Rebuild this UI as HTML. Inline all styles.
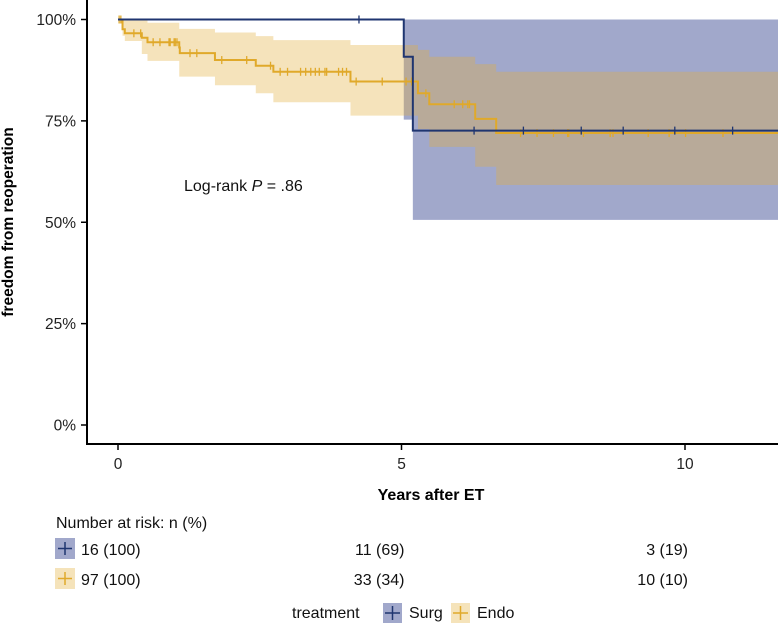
<!DOCTYPE html>
<html><head><meta charset="utf-8"><style>
body{margin:0;background:#fff}
svg{display:block;font-family:"Liberation Sans",Arial,sans-serif}
</style></head><body>
<svg id="chart" width="778" height="624" viewBox="0 0 778 624">
<g id="bands"></g><g id="lines"></g>
<g id="axes"></g>
</svg>
<script>
// Surg series
const surgT=[0,5.04,5.20];
const surgS=[1.0,0.908,0.726];
const surgUp=[1.0,1.0,1.0];
const surgLo=[1.0,0.753,0.506];
const surgCens=[4.25,6.28,7.15,8.17,8.91,9.82,10.84];
// Endo series
const endoT=[0,0.08,0.12,0.42,0.52,1.08,1.09,1.71,2.43,2.74,4.10,5.29,5.49,6.30,6.67];
const endoS=[1.0,0.976,0.966,0.955,0.944,0.931,0.917,0.900,0.886,0.871,0.847,0.818,0.791,0.755,0.720];
const endoUp=[1.0,1.0,1.0,1.0,0.992,0.977,0.977,0.968,0.959,0.949,0.937,0.925,0.908,0.890,0.871];
const endoLo=[1.0,0.96,0.947,0.915,0.898,0.859,0.859,0.838,0.818,0.796,0.763,0.73,0.686,0.637,0.592];
const endoCens=[0.02,0.05,0.28,0.4,0.62,0.74,0.9,0.92,0.99,1.01,1.04,1.27,1.39,1.83,2.27,2.69,2.86,2.99,3.22,3.31,3.4,3.48,3.55,3.65,3.68,3.89,3.96,4.03,4.2,4.66,5.08,5.18,5.43,5.93,6.08,6.17,6.2,7.1,7.39,7.68,7.93,7.95,8.21,8.68,8.73,9.35,9.72,10.01,10.67];
const xTicks=[0,5,10];
const yTicks=[0,0.25,0.5,0.75,1.0];
const yTickLabels=["0%","25%","50%","75%","100%"];
const riskTimes=[0,5,10];
const surgRisk=["16 (100)","11 (69)","3 (19)"];
const endoRisk=["97 (100)","33 (34)","10 (10)"];
const tMax=11.65;

const NS="http://www.w3.org/2000/svg";
const X=t=>118+t*56.7;
const Y=s=>425-s*405.5;
const svg=document.getElementById('chart');
function mk(tag,attrs,parent){const e=document.createElementNS(NS,tag);for(const k in attrs)e.setAttribute(k,attrs[k]);(parent||svg).appendChild(e);return e;}
function stepPath(T,S){let d=`M${X(T[0])},${Y(S[0])}`;for(let i=1;i<T.length;i++){d+=`H${X(T[i])}V${Y(S[i])}`;}d+=`H${X(tMax)}`;return d;}
function bandPath(T,U,L){let up=`M${X(T[0])},${Y(U[0])}`;for(let i=1;i<T.length;i++)up+=`H${X(T[i])}V${Y(U[i])}`;up+=`H${X(tMax)}V${Y(L[L.length-1])}`;for(let i=T.length-1;i>=1;i--)up+=`H${X(T[i])}V${Y(L[i-1])}`;up+=`H${X(T[0])}Z`;return up;}
function stepAt(T,S,t){let v=S[0];for(let i=0;i<T.length;i++)if(T[i]<=t)v=S[i];return v;}
const bands=document.getElementById('bands'),lines=document.getElementById('lines');
let b=mk('path',{d:bandPath(surgT,surgUp,surgLo),fill:'#a1a8cb'},bands);


b=mk('path',{d:bandPath(endoT,endoUp,endoLo),fill:'rgb(226,175,60)','fill-opacity':0.35},bands);


let l=mk('path',{d:stepPath(endoT,endoS),fill:'none',stroke:'#e0a92a','stroke-width':2},lines);


endoCens.forEach(t=>{const c=mk('line',{x1:X(t),x2:X(t),y1:Y(stepAt(endoT,endoS,t))-4,y2:Y(stepAt(endoT,endoS,t))+4,stroke:'#e0a92a','stroke-width':1.3},lines);

});
l=mk('path',{d:stepPath(surgT,surgS),fill:'none',stroke:'#1f3570','stroke-width':2},lines);


surgCens.forEach(t=>{const c=mk('line',{x1:X(t),x2:X(t),y1:Y(stepAt(surgT,surgS,t))-4,y2:Y(stepAt(surgT,surgS,t))+4,stroke:'#1f3570','stroke-width':1.3},lines);

});
const ax=document.getElementById('axes');
let a=mk('path',{d:'M87,0V444H778',fill:'none',stroke:'#000','stroke-width':2},ax);


yTicks.forEach((v,i)=>{mk('line',{x1:81,x2:87,y1:Y(v),y2:Y(v),stroke:'#000','stroke-width':1.5},ax);
const tx=mk('text',{x:76,y:Y(v)+5.5,'text-anchor':'end','font-size':15.5,fill:'#222'},ax);tx.textContent=yTickLabels[i];

});
xTicks.forEach(v=>{mk('line',{x1:X(v),x2:X(v),y1:444,y2:450,stroke:'#000','stroke-width':1.5},ax);
const tx=mk('text',{x:X(v),y:469,'text-anchor':'middle','font-size':15.5,fill:'#222'},ax);tx.textContent=v;

});
riskTimes.forEach((t,i)=>{
 const anchor=i===0?'start':'end', x=i===0?81:X(t)+3;
 let tx=mk('text',{x:x,y:555,'text-anchor':anchor,'font-size':16,fill:'#111'});tx.textContent=surgRisk[i];
 
 
 tx=mk('text',{x:x,y:585,'text-anchor':anchor,'font-size':16,fill:'#111'});tx.textContent=endoRisk[i];
 
 
});
</script>
<script>
(function(){
const svg=document.getElementById('chart');
svg.insertAdjacentHTML('beforeend',`
<text x="13" y="222" transform="rotate(-90 13 222)" text-anchor="middle" font-size="15.5" font-weight="bold">freedom from reoperation</text>
<text x="431" y="500" text-anchor="middle" font-size="16" font-weight="bold">Years after ET</text>
<text x="184" y="191" font-size="16" fill="#111">Log-rank <tspan font-style="italic">P</tspan> = .86</text>
<text x="56" y="528" font-size="16" fill="#111">Number at risk: n (%)</text>
<g><rect x="55" y="538" width="20" height="21" fill="#a1a8cb"/><path d="M58,548.5H72M65,542V555" stroke="#1f3570" stroke-width="1.5"/></g>
<g><rect x="55" y="568" width="20" height="21" fill="#f5e3ba"/><path d="M58,578.5H72M65,572V585" stroke="#e0a92a" stroke-width="1.5"/></g>
<text x="292" y="618" font-size="16" fill="#111">treatment</text>
<g><rect x="383" y="603" width="19" height="20" fill="#a1a8cb"/><path d="M385,613H400M392.5,606V620" stroke="#1f3570" stroke-width="1.5"/><text x="409" y="618" font-size="16" fill="#111">Surg</text></g>
<g><rect x="451" y="603" width="19" height="20" fill="#f5e3ba"/><path d="M453,613H468M460.5,606V620" stroke="#e0a92a" stroke-width="1.5"/><text x="477" y="618" font-size="16" fill="#111">Endo</text></g>
`);
})();
</script>
</body></html>
